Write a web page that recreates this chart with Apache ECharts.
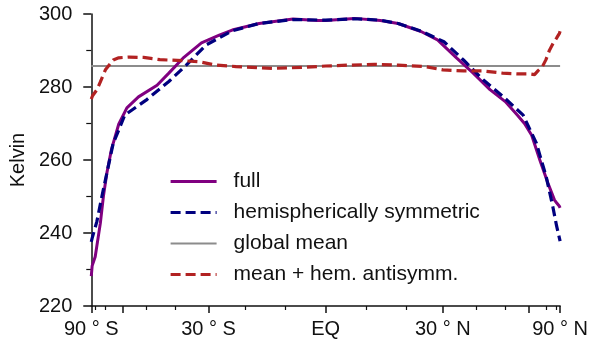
<!DOCTYPE html>
<html>
<head>
<meta charset="utf-8">
<script src="https://cdn.jsdelivr.net/npm/echarts@6/dist/echarts.min.js"></script>
<style>
html,body{margin:0;padding:0;background:#fff;}
#chart{width:591px;height:343px;}
</style>
</head>
<body>
<div id="chart"></div>
<script>
// ---- data (latitude in degrees, temperature in Kelvin) ----
var fullLat = [-90,-85,-79.5,-74,-71.5,-69,-66,-62,-58,-53,-46,-42,-37.5,-32,-27,-23.5,-16.5,-8,-2,0,7,13.5,18,24,28.5,34,39,44.5,50,55,58,61.5,66,71.5,77.5,80,85,90];
var fullT   = [228.2,231,233.5,242.7,250,256.4,263,269.8,274.3,277.3,280.5,283.8,287.9,292.1,294.2,295.6,297.4,298.6,298.2,298.2,298.8,298.2,297.4,295.2,292.9,287.9,283.8,279.3,276,272.2,270,266.8,260,253.6,249,248.3,247.4,246.9];

var symLat = [-90,-85,-77.5,-72.7,-69,-65,-62,-59,-50,-42,-36.5,-30.7,-23.5,-16.5,-8,0,7,13.5,18,24,30.3,36,42.3,49.3,57.4,64,70.2,75.7,80,85.6,90];
var symT   = [237.6,238.6,243.1,250,256.4,264.6,268.2,272.3,276.4,281.5,286,291.5,295.4,297.4,298.5,298.3,298.7,298.3,297.4,295.3,292.4,287.4,281.9,277.3,272.3,264.6,255.4,247.2,242,238.6,237.8];

var globalMean = 285.75;
var meanLat = [-90, 90];

var antiLat = [-90,-84,-77.5,-74,-70,-65,-62,-57,-51,-45,-37.5,-32.5,-28,-22.5,-13,-5,0,6,12,18,25,30,36,42,49,55,60.5,63,65,67.5,70,72.7,76,80,85.6,90];
var antiT   = [276.7,277.6,279.2,281.4,284.7,287.4,288.0,288.2,288.1,287.5,287.2,286.9,286.0,285.6,285.1,285.4,285.75,286.0,286.2,286.0,285.6,284.7,284.4,284.4,283.8,283.6,283.6,283.4,284.5,285.5,287.5,290.1,292.0,293.4,294.7,295.3];

// ---- axis ticks ----
var xMajorLat = [-90,-60,-30,0,30,60,90];
var xMinorLat = [-80,-70,-50,-40,-20,-10,10,20,40,50,70,80];
var xLabelLat = [-90,-30,0,30,90];
var xLabelText = ['90 \u00b0 S','30 \u00b0 S','EQ','30 \u00b0 N','90 \u00b0 N'];

var seriesNames = ['full','hemispherically symmetric','global mean','mean + hem. antisymm.'];

// sin(latitude) axis transform
function s(lat){ return Math.sin(lat*Math.PI/180); }
function pairs(lats, vals){ return lats.map(function(l,i){ return [s(l), vals[i]]; }); }

var FONT = 'Liberation Sans';
var W_FULL = 3, W_DASH = 3.2, W_MEAN = 2;
var DASH = [10,5];
var chart = echarts.init(document.getElementById('chart'), null, {renderer:'canvas'});

var option = {
  animation:false,
  backgroundColor:'#ffffff',
  grid:{left:91, right:27, top:14, bottom:37, containLabel:false},
  legend:{
    orient:'vertical', left:169, top:171, padding:0,
    itemWidth:46, itemHeight:14, itemGap:10,
    data:[
      {name:seriesNames[0], lineStyle:{width:W_FULL}},
      {name:seriesNames[1], lineStyle:{width:W_DASH}},
      {name:seriesNames[2], lineStyle:{width:W_MEAN}},
      {name:seriesNames[3], lineStyle:{width:W_DASH}}
    ],
    itemStyle:{opacity:0},
    textStyle:{fontFamily:FONT, fontSize:21, color:'#111', lineHeight:21, padding:[0,0,0,12]}
  },
  xAxis:[{
    type:'value', min:-1, max:1, position:'bottom',
    axisLine:{show:true, onZero:false, lineStyle:{color:'#111', width:1.5}},
    axisTick:{show:true, length:7, customValues:xMajorLat.map(s), lineStyle:{color:'#111', width:1.5}},
    axisLabel:{
      show:true, margin:13, fontFamily:FONT, fontSize:20, color:'#111',
      customValues:xLabelLat.map(s),
      formatter:function(v){
        var best=0, bd=1e9;
        xLabelLat.forEach(function(l,i){ var d=Math.abs(s(l)-v); if(d<bd){bd=d;best=i;} });
        return xLabelText[best];
      }
    },
    splitLine:{show:false}
  },{
    type:'value', min:-1, max:1, position:'bottom',
    axisLine:{show:false, onZero:false},
    axisTick:{show:true, length:4, customValues:xMinorLat.map(s), lineStyle:{color:'#111', width:1.2}},
    axisLabel:{show:false},
    splitLine:{show:false}
  }],
  yAxis:{
    type:'value', min:220, max:300, interval:20,
    name:'Kelvin', nameLocation:'middle', nameGap:56, nameRotate:90,
    nameTextStyle:{fontFamily:FONT, fontSize:20, color:'#111'},
    axisLine:{show:true, onZero:false, lineStyle:{color:'#111', width:1.5}},
    axisTick:{show:true, length:8, lineStyle:{color:'#111', width:1.5}},
    minorTick:{show:true, splitNumber:2, length:5, lineStyle:{color:'#111', width:1.2}},
    axisLabel:{margin:19, fontFamily:FONT, fontSize:20, color:'#111'},
    splitLine:{show:false}
  },
  series:[
    {name:seriesNames[2], type:'line', xAxisIndex:0, symbol:'none', z:1,
     data:pairs(meanLat, meanLat.map(function(){return globalMean;})),
     lineStyle:{color:'#8c8c8c', width:W_MEAN}, itemStyle:{color:'#8c8c8c'}},
    {name:seriesNames[0], type:'line', xAxisIndex:0, symbol:'none', z:2,
     data:pairs(fullLat, fullT),
     lineStyle:{color:'#800080', width:W_FULL}, itemStyle:{color:'#800080'}},
    {name:seriesNames[1], type:'line', xAxisIndex:0, symbol:'none', z:3,
     data:pairs(symLat, symT),
     lineStyle:{color:'#00007f', width:W_DASH, type:DASH}, itemStyle:{color:'#00007f'}},
    {name:seriesNames[3], type:'line', xAxisIndex:0, symbol:'none', z:4,
     data:pairs(antiLat, antiT),
     lineStyle:{color:'#b22222', width:W_DASH, type:DASH}, itemStyle:{color:'#b22222'}}
  ]
};
chart.setOption(option);
</script>
</body>
</html>
